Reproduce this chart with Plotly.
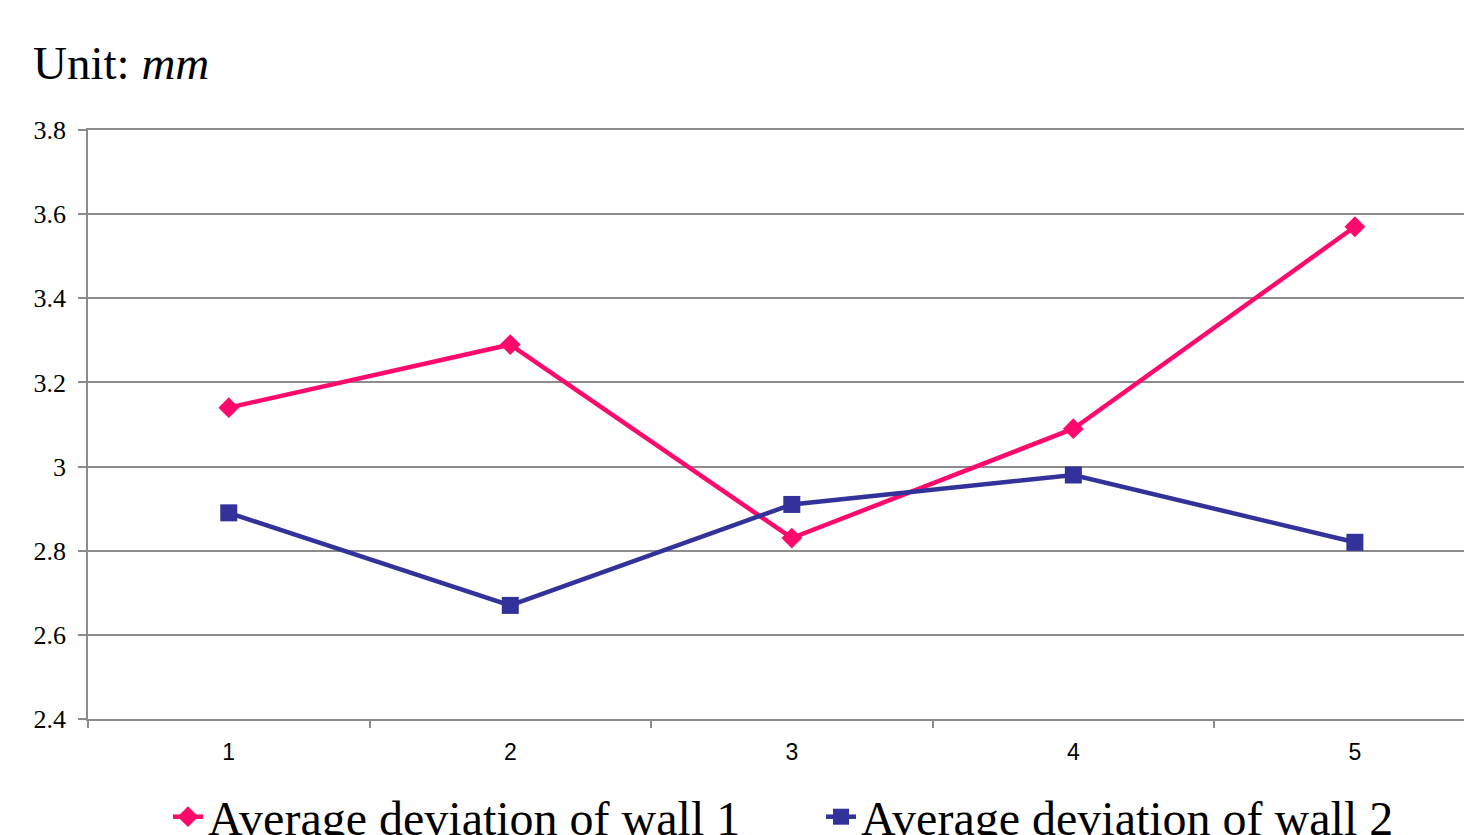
import plotly.graph_objects as go

categories = ["1", "2", "3", "4", "5"]
wall1 = [3.14, 3.29, 2.83, 3.09, 3.57]
wall2 = [2.89, 2.67, 2.91, 2.98, 2.82]
names = ["Average deviation of wall 1", "Average deviation of wall 2"]

W, H = 1464, 827
fig = go.Figure()
fig.add_trace(go.Scatter(x=categories, y=wall1, name=names[0], mode="lines+markers",
                         line=dict(color="#FF0A6C", width=4.5),
                         marker=dict(symbol="diamond", size=16, color="#FF0A6C")))
fig.add_trace(go.Scatter(x=categories, y=wall2, name=names[1], mode="lines+markers",
                         line=dict(color="#32329A", width=4.5),
                         marker=dict(symbol="square", size=17, color="#32329A")))

serif = '"Liberation Serif", "Times New Roman", serif'
sans = '"Liberation Sans", Arial, sans-serif'
grid = "#8C8C8C"

fig.update_layout(
    width=W, height=H,
    margin=dict(l=80, r=0, t=122, b=116, autoexpand=False),
    paper_bgcolor="white", plot_bgcolor="white",
    title=dict(text="Unit: <i>mm</i>", x=25 / W, xanchor="left", xref="container",
               y=1 - 55 / H, yanchor="middle", yref="container",
               font=dict(family=serif, size=47, color="black")),
    showlegend=True,
    legend=dict(orientation="h", x=160 / W, xanchor="left", xref="container",
                y=1 - 771 / H, yanchor="top", yref="container",
                font=dict(family=serif, size=48, color="black"),
                bgcolor="rgba(0,0,0,0)", itemwidth=30, tracegroupgap=0,
                entrywidth=608, entrywidthmode="pixels"),
    xaxis=dict(type="category", range=[-0.5, 4.416], tickson="boundaries",
               ticks="outside", ticklen=7, tickcolor=grid, tickwidth=1.5,
               showline=True, linecolor=grid, linewidth=1.5, showgrid=False, mirror=True,
               tickfont=dict(family=sans, size=23, color="black"), ticklabelstandoff=12),
    yaxis=dict(range=[2.4, 3.8], dtick=0.2, tick0=2.4, ticks="outside", ticklen=8,
               tickcolor=grid, tickwidth=1.5, showline=True, linecolor=grid, linewidth=1.5,
               showgrid=True, gridcolor=grid, gridwidth=1.5, zeroline=False,
               tickfont=dict(family=serif, size=26, color="black"), ticklabelstandoff=7),
)

fig.write_html("out.html")
